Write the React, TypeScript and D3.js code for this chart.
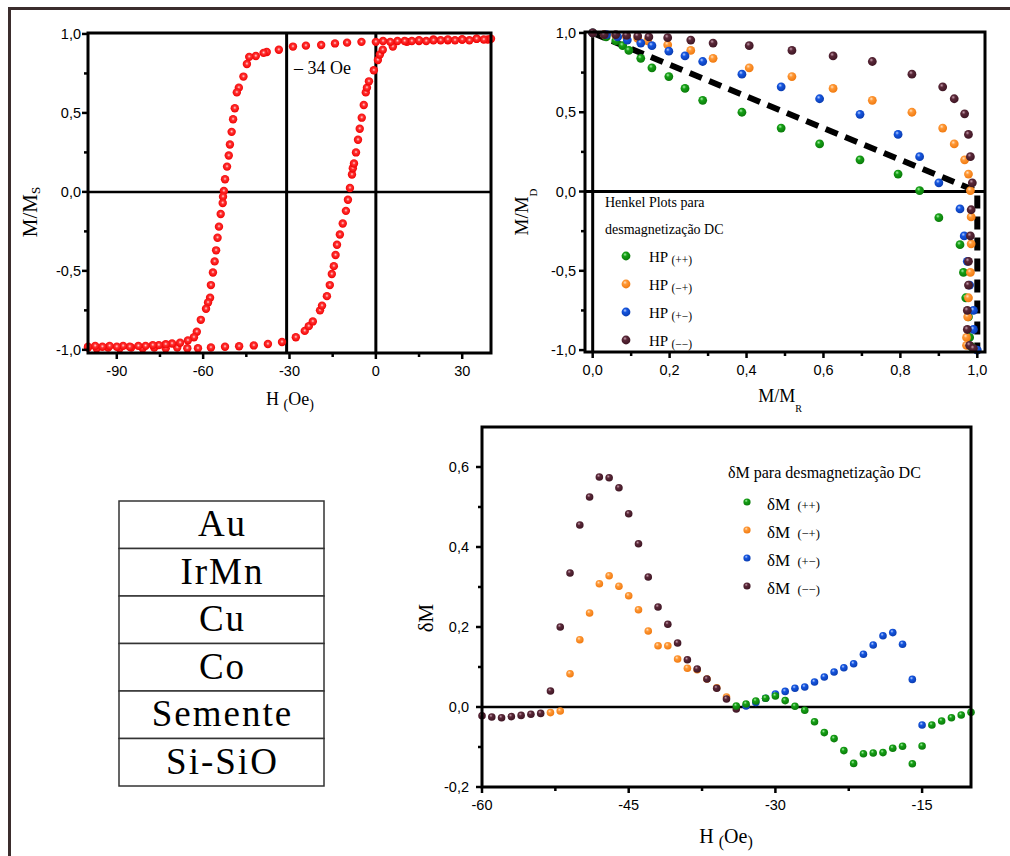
import React from 'react';
import * as d3 from 'd3';

// hysteresis loop, [H (Oe), M/Ms]
const hystDown: [number, number][] = [
  [40, 0.97], [37.5, 0.965], [35, 0.97], [32.5, 0.96], [30, 0.965], [27.5, 0.96], [25, 0.965], [22.5, 0.96],
  [20, 0.96], [17.5, 0.955], [15, 0.96], [12.5, 0.955], [10, 0.955], [7.5, 0.955], [5, 0.95], [2.5, 0.955],
  [0, 0.95], [-5, 0.95], [-10, 0.945], [-14.2, 0.94], [-19, 0.93], [-24.3, 0.926], [-28.8, 0.92], [-33.7, 0.9],
  [-37.9, 0.886], [-39, 0.88], [-41.7, 0.86], [-44, 0.855], [-44.8, 0.81], [-46, 0.73], [-47.6, 0.66], [-48.3, 0.63],
  [-49, 0.53], [-49.6, 0.46], [-50.1, 0.38], [-50.7, 0.3], [-51.1, 0.23], [-51.7, 0.16], [-52.4, 0.08], [-52.8, 0.006],
  [-53.1, -0.03], [-53.2, -0.07], [-53.9, -0.14], [-54.5, -0.22], [-55, -0.29], [-55.5, -0.37], [-56, -0.44],
  [-56.6, -0.51], [-57.3, -0.59], [-57.6, -0.67], [-58.3, -0.7], [-59, -0.74], [-60.8, -0.81], [-62.2, -0.885],
  [-63.2, -0.92], [-65.3, -0.94], [-68, -0.955], [-70.8, -0.96], [-73, -0.965], [-75.4, -0.97], [-77.5, -0.97],
  [-80, -0.975], [-82.5, -0.975], [-85.5, -0.98], [-87.8, -0.975], [-90, -0.98], [-92.5, -0.975], [-95, -0.98],
  [-97.5, -0.975], [-100, -0.98],
];
const hystUp: [number, number][] = [
  [-100, -0.985], [-97, -0.99], [-93, -0.985], [-89, -0.99], [-85, -0.985], [-81, -0.99], [-77, -0.985], [-73, -0.99],
  [-69, -0.985], [-65.5, -0.99], [-61.8, -0.99], [-57.3, -0.985], [-52.4, -0.98], [-47.5, -0.977], [-42.4, -0.972],
  [-37.5, -0.963], [-32.6, -0.95], [-27.8, -0.92], [-24.7, -0.88], [-23.3, -0.85], [-21.9, -0.82], [-19.4, -0.75],
  [-18.7, -0.72], [-17, -0.66], [-16, -0.59], [-15.3, -0.52], [-14.6, -0.47], [-14, -0.4], [-13.5, -0.335],
  [-12.5, -0.27], [-11.5, -0.2], [-10.4, -0.12], [-9.7, -0.05], [-9, 0.025], [-8.3, 0.11], [-8, 0.15], [-7.6, 0.18],
  [-6.9, 0.25], [-6.2, 0.33], [-5.6, 0.4], [-4.9, 0.47], [-4.2, 0.55], [-3.5, 0.63], [-3.1, 0.66], [-2.4, 0.7],
  [-0.7, 0.77], [0.7, 0.835], [1.4, 0.87], [2.4, 0.9], [5.9, 0.92], [10.8, 0.95], [15, 0.955], [20, 0.965],
  [25, 0.96], [30, 0.965], [35, 0.97], [38.9, 0.965],
];
const exchangeLine = -31;

// Henkel plots, [M/Mr, M/Md]
const hpGreen: [number, number][] = [
  [0, 1], [0.035, 0.975], [0.06, 0.95], [0.078, 0.92], [0.094, 0.89], [0.125, 0.84], [0.154, 0.78], [0.198, 0.725],
  [0.24, 0.65], [0.286, 0.575], [0.388, 0.5], [0.49, 0.4], [0.59, 0.3], [0.695, 0.2], [0.794, 0.11], [0.85, 0.006],
  [0.9, -0.165], [0.955, -0.335], [0.964, -0.51], [0.97, -0.67], [0.977, -0.79], [0.98, -0.92], [0.985, -0.98],
];
const hpOrange: [number, number][] = [
  [0, 1], [0.03, 0.99], [0.06, 0.985], [0.088, 0.975], [0.117, 0.965], [0.143, 0.95], [0.195, 0.925], [0.255, 0.89],
  [0.313, 0.84], [0.407, 0.78], [0.518, 0.725], [0.625, 0.65], [0.727, 0.575], [0.83, 0.5], [0.91, 0.4], [0.94, 0.3],
  [0.967, 0.2], [0.977, 0.11], [0.982, 0.006], [0.984, -0.16], [0.984, -0.33], [0.982, -0.51], [0.977, -0.67],
  [0.975, -0.79], [0.972, -0.92], [0.972, -0.97],
];
const hpBlue: [number, number][] = [
  [0, 1], [0.036, 0.99], [0.065, 0.975], [0.09, 0.955], [0.125, 0.936], [0.154, 0.92], [0.198, 0.885], [0.24, 0.855],
  [0.286, 0.82], [0.388, 0.74], [0.49, 0.66], [0.59, 0.585], [0.695, 0.487], [0.794, 0.36], [0.85, 0.22], [0.9, 0.055],
  [0.955, -0.11], [0.966, -0.28], [0.974, -0.44], [0.98, -0.59], [0.99, -0.75], [0.99, -0.87], [1.0, -1.0],
];
const hpMaroon: [number, number][] = [
  [0, 1], [0.03, 0.99], [0.06, 0.99], [0.088, 0.985], [0.117, 0.98], [0.146, 0.975], [0.195, 0.97], [0.255, 0.955],
  [0.313, 0.936], [0.407, 0.92], [0.518, 0.89], [0.625, 0.855], [0.727, 0.82], [0.83, 0.74], [0.91, 0.66], [0.94, 0.585],
  [0.967, 0.49], [0.977, 0.36], [0.982, 0.22], [0.987, 0.055], [0.984, -0.115], [0.982, -0.28], [0.977, -0.44],
  [0.977, -0.59], [0.974, -0.75], [0.974, -0.87], [0.98, -0.97], [0.99, -0.99],
];
const wohlfarth: [number, number][] = [[0, 1], [1, 0], [1, -1]];

// delta M, [H (Oe), dM]
const dmMaroon: [number, number][] = [
  [-60, -0.022], [-59, -0.025], [-58, -0.027], [-57, -0.024], [-56, -0.021], [-55, -0.018], [-54, -0.016], [-53, 0.04],
  [-52, 0.2], [-51, 0.335], [-50, 0.455], [-49, 0.525], [-48, 0.575], [-47, 0.573], [-46, 0.548], [-45, 0.483],
  [-44, 0.408], [-43, 0.325], [-42, 0.25], [-41, 0.207], [-40, 0.16], [-39, 0.118], [-38, 0.095], [-37, 0.07],
  [-36, 0.047], [-35, 0.02], [-34, -0.005],
];
const dmOrange: [number, number][] = [
  [-53, -0.014], [-52, -0.01], [-51, 0.083], [-50, 0.168], [-49, 0.235], [-48, 0.308], [-47, 0.328], [-46, 0.302],
  [-45, 0.278], [-44, 0.243], [-43, 0.19], [-42, 0.153], [-41, 0.153], [-40, 0.12], [-39, 0.097], [-38, 0.093],
  [-37, 0.07], [-36, 0.048], [-35, 0.025],
];
const dmBlue: [number, number][] = [
  [-33, 0.0025], [-32, 0.0115], [-31, 0.022], [-30, 0.0325], [-29, 0.039], [-28, 0.047], [-27, 0.05], [-26, 0.0625],
  [-25, 0.075], [-24, 0.0875], [-23, 0.098], [-22, 0.108], [-21, 0.132], [-20, 0.155], [-19, 0.178], [-18, 0.186],
  [-17, 0.157], [-16, 0.069], [-15, -0.045],
];
const dmGreen: [number, number][] = [
  [-34, 0.0025], [-33, 0.0075], [-32, 0.015], [-31, 0.022], [-30, 0.0275], [-29, 0.016], [-28, 0.002], [-27, -0.008],
  [-26, -0.037], [-25, -0.064], [-24, -0.079], [-23, -0.109], [-22, -0.141], [-21, -0.117], [-20, -0.115],
  [-19, -0.114], [-18, -0.103], [-17, -0.098], [-16, -0.142], [-15, -0.0975], [-14, -0.045], [-13, -0.035],
  [-12, -0.027], [-11, -0.02], [-10, -0.013],
];

const layers = ['Au', 'IrMn', 'Cu', 'Co', 'Semente', 'Si-SiO'];
const legendTags = ['(++)', '(−+)', '(+−)', '(−−)'];

const hystXTicks = [-90, -60, -30, 0, 30];
const hystXMinor = [-75, -45, -15, 15];
const unitYTicks = [1, 0.5, 0, -0.5, -1];
const unitYMinor = [0.75, 0.25, -0.25, -0.75];
const hpXTicks = [0, 0.2, 0.4, 0.6, 0.8, 1.0];
const hpXMinor = [0.1, 0.3, 0.5, 0.7, 0.9];
const dmXTicks = [-60, -45, -30, -15];
const dmXMinor = [-52.5, -37.5, -22.5];
const dmYTicks = [0.6, 0.4, 0.2, 0, -0.2];
const dmYMinor = [0.5, 0.3, 0.1, -0.1];

const colors = {
  green: '#16a016',
  orange: '#ff9836',
  blue: '#1656e0',
  maroon: '#5a2838',
  red: '#ff1010',
};

const SANS = '"Liberation Sans", Arial, sans-serif';
const SERIF = '"Liberation Serif", "Times New Roman", serif';

const comma = (d: number) => (v: number) => v.toFixed(d).replace('.', ',');

type Lin = d3.ScaleLinear<number, number>;

function Axes({ x, y, xTicks, xMinor, yTicks, yMinor, xFmt, yFmt, yLabelX }: {
  x: Lin; y: Lin; xTicks: number[]; xMinor: number[]; yTicks: number[]; yMinor: number[];
  xFmt: (v: number) => string; yFmt: (v: number) => string; yLabelX: number;
}) {
  const [x0, x1] = x.range();
  const [yb, yt] = y.range();
  return (
    <g>
      {xTicks.map(t => (
        <g key={'x' + t}>
          <line x1={x(t)} x2={x(t)} y1={yb} y2={yb + 6} stroke="#000" strokeWidth={2.5} />
          <text x={x(t)} y={yb + 23} textAnchor="middle" fontFamily={SANS} fontSize={14.5}>{xFmt(t)}</text>
        </g>
      ))}
      {xMinor.map(t => (
        <line key={'xm' + t} x1={x(t)} x2={x(t)} y1={yb} y2={yb + 4} stroke="#000" strokeWidth={2.5} />
      ))}
      {yTicks.map(t => (
        <g key={'y' + t}>
          <line x1={x0} x2={x0 - 6} y1={y(t)} y2={y(t)} stroke="#000" strokeWidth={2.5} />
          <text x={yLabelX} y={y(t) + 5} textAnchor="end" fontFamily={SANS} fontSize={14.5}>{yFmt(t)}</text>
        </g>
      ))}
      {yMinor.map(t => (
        <line key={'ym' + t} x1={x0} x2={x0 - 4} y1={y(t)} y2={y(t)} stroke="#000" strokeWidth={2.5} />
      ))}
      <rect x={x0} y={yt} width={x1 - x0} height={yb - yt} fill="none" stroke="#000" strokeWidth={3} />
    </g>
  );
}

function Balls({ data, x, y, r, fill }: { data: [number, number][]; x: Lin; y: Lin; r: number; fill: string }) {
  return (
    <g>
      {data.map((d, i) => (
        <circle key={i} cx={x(d[0])} cy={y(d[1])} r={r} fill={fill} />
      ))}
    </g>
  );
}

function Grad({ id, base, light, dark }: { id: string; base: string; light: string; dark: string }) {
  return (
    <radialGradient id={id} cx="0.42" cy="0.38" r="0.62" fx="0.38" fy="0.32">
      <stop offset="0%" stopColor={light} />
      <stop offset="35%" stopColor={base} />
      <stop offset="100%" stopColor={dark} />
    </radialGradient>
  );
}

export default function App() {
  // hysteresis
  const hx = d3.scaleLinear().domain([-100, 40]).range([88, 491]);
  const hy = d3.scaleLinear().domain([-1.02, 1.006]).range([353, 33]);
  // henkel
  const kx = d3.scaleLinear().domain([-0.02, 1.02]).range([585, 985]);
  const ky = d3.scaleLinear().domain([-1.012, 1.006]).range([352, 32]);
  // delta M
  const dx = d3.scaleLinear().domain([-60, -10]).range([482, 971]);
  const dy = d3.scaleLinear().domain([-0.2, 0.7]).range([787, 427]);
  // layer stack
  const rows = d3.scaleBand<string>().domain(layers).range([501, 786]);

  const dash = d3.line<[number, number]>().x(d => kx(d[0])).y(d => ky(d[1]));

  const hpSeries = [
    { data: hpGreen, fill: 'url(#gGreen)' },
    { data: hpOrange, fill: 'url(#gOrange)' },
    { data: hpBlue, fill: 'url(#gBlue)' },
    { data: hpMaroon, fill: 'url(#gMaroon)' },
  ];
  const legendFills = ['url(#gGreen)', 'url(#gOrange)', 'url(#gBlue)', 'url(#gMaroon)'];

  return (
    <svg width={1010} height={856} style={{ position: 'absolute', left: 0, top: 0, background: '#fff' }}>
      <defs>
        <Grad id="gGreen" base={colors.green} light="#a8f0a8" dark="#0a7a0a" />
        <Grad id="gOrange" base={colors.orange} light="#ffe2c0" dark="#f07a10" />
        <Grad id="gBlue" base={colors.blue} light="#b8d0ff" dark="#0a3cb0" />
        <Grad id="gMaroon" base={colors.maroon} light="#c8a0b0" dark="#3e1624" />
        <radialGradient id="gRed" cx="0.5" cy="0.45" r="0.55">
          <stop offset="0%" stopColor="#ffd8d8" />
          <stop offset="35%" stopColor="#ff3030" />
          <stop offset="100%" stopColor="#f00000" />
        </radialGradient>
      </defs>

      {/* outer border */}
      <line x1={8} x2={1010} y1={8.5} y2={8.5} stroke="#3b2d2d" strokeWidth={3} />
      <line x1={9.5} x2={9.5} y1={7} y2={856} stroke="#3b2d2d" strokeWidth={3} />

      {/* hysteresis loop */}
      <line x1={hx(-100)} x2={hx(40)} y1={hy(0)} y2={hy(0)} stroke="#000" strokeWidth={2.5} />
      <line x1={hx(0)} x2={hx(0)} y1={hy(1.006)} y2={hy(-1.02)} stroke="#000" strokeWidth={3} />
      <line x1={hx(exchangeLine)} x2={hx(exchangeLine)} y1={hy(1.006)} y2={hy(-1.02)} stroke="#000" strokeWidth={3} />
      <Balls data={hystUp} x={hx} y={hy} r={4.2} fill="url(#gRed)" />
      <Balls data={hystDown} x={hx} y={hy} r={4.2} fill="url(#gRed)" />
      <Axes x={hx} y={hy} xTicks={hystXTicks} xMinor={hystXMinor} yTicks={unitYTicks} yMinor={unitYMinor}
        xFmt={v => String(v)} yFmt={comma(1)} yLabelX={81} />
      <text x={294} y={74} fontFamily={SERIF} fontSize={18}>– 34 Oe</text>
      <text x={290} y={405} textAnchor="middle" fontFamily={SERIF} fontSize={18}>
        H <tspan fontSize={14} dy={4}>(</tspan><tspan dy={-4}>Oe</tspan><tspan fontSize={14} dy={4}>)</tspan>
      </text>
      <text transform="translate(37,212) rotate(-90)" textAnchor="middle" fontFamily={SERIF} fontSize={21}>
        M/M<tspan fontSize={13} dy={3}>S</tspan>
      </text>

      {/* Henkel plots */}
      <path d={dash(wohlfarth) || ''} fill="none" stroke="#000" strokeWidth={6} strokeDasharray="13 8" />
      <line x1={kx(-0.02)} x2={kx(1.02)} y1={ky(0)} y2={ky(0)} stroke="#000" strokeWidth={3} />
      <line x1={kx(0)} x2={kx(0)} y1={ky(1.006)} y2={ky(-1.012)} stroke="#000" strokeWidth={3} />
      {hpSeries.map((s, i) => (
        <Balls key={i} data={s.data} x={kx} y={ky} r={4.4} fill={s.fill} />
      ))}
      <Axes x={kx} y={ky} xTicks={hpXTicks} xMinor={hpXMinor} yTicks={unitYTicks} yMinor={unitYMinor}
        xFmt={comma(1)} yFmt={comma(1)} yLabelX={576} />
      <text x={605} y={207} fontFamily={SERIF} fontSize={14}>Henkel Plots para</text>
      <text x={605} y={234} fontFamily={SERIF} fontSize={14}>desmagnetização DC</text>
      {legendTags.map((t, i) => (
        <g key={t}>
          <circle cx={626} cy={256 + i * 28} r={4.4} fill={legendFills[i]} />
          <text x={649} y={262 + i * 28} fontFamily={SERIF} fontSize={15}>
            HP <tspan fontSize={11.5} dy={2}>{t}</tspan>
          </text>
        </g>
      ))}
      <text x={780} y={402} textAnchor="middle" fontFamily={SERIF} fontSize={18}>
        M/M<tspan fontSize={10} dy={10}>R</tspan>
      </text>
      <text transform="translate(528,212) rotate(-90)" textAnchor="middle" fontFamily={SERIF} fontSize={19}>
        M/M<tspan fontSize={11} dy={9}>D</tspan>
      </text>

      {/* delta M */}
      <line x1={dx(-60)} x2={dx(-10)} y1={dy(0)} y2={dy(0)} stroke="#000" strokeWidth={2.5} />
      <Balls data={dmOrange} x={dx} y={dy} r={3.8} fill="url(#gOrange)" />
      <Balls data={dmMaroon} x={dx} y={dy} r={3.8} fill="url(#gMaroon)" />
      <Balls data={dmBlue} x={dx} y={dy} r={3.8} fill="url(#gBlue)" />
      <Balls data={dmGreen} x={dx} y={dy} r={3.8} fill="url(#gGreen)" />
      <Axes x={dx} y={dy} xTicks={dmXTicks} xMinor={dmXMinor} yTicks={dmYTicks} yMinor={dmYMinor}
        xFmt={v => String(v)} yFmt={comma(1)} yLabelX={469} />
      <text x={728} y={478} fontFamily={SERIF} fontSize={16}>δM para desmagnetização DC</text>
      {legendTags.map((t, i) => (
        <g key={'d' + t}>
          <circle cx={747} cy={502 + i * 28} r={3.6} fill={legendFills[i]} />
          <text x={767} y={510 + i * 28} fontFamily={SERIF} fontSize={17}>
            δM <tspan fontSize={12.5} dx={3}>{t}</tspan>
          </text>
        </g>
      ))}
      <text x={726} y={843} textAnchor="middle" fontFamily={SERIF} fontSize={20}>
        H <tspan fontSize={16} dy={4}>(</tspan><tspan dy={-4}>Oe</tspan><tspan fontSize={16} dy={4}>)</tspan>
      </text>
      <text transform="translate(433,618) rotate(-90)" textAnchor="middle" fontFamily={SERIF} fontSize={21}>δM</text>

      {/* layer stack */}
      {layers.map(l => (
        <g key={l}>
          <rect x={119} y={rows(l)} width={205} height={rows.bandwidth()} fill="#fff" stroke="#333" strokeWidth={1.5} />
          <text x={222.5} y={(rows(l) || 0) + 35} textAnchor="middle" fontFamily={SERIF} fontSize={37}
            letterSpacing={2}>{l}</text>
        </g>
      ))}
    </svg>
  );
}
